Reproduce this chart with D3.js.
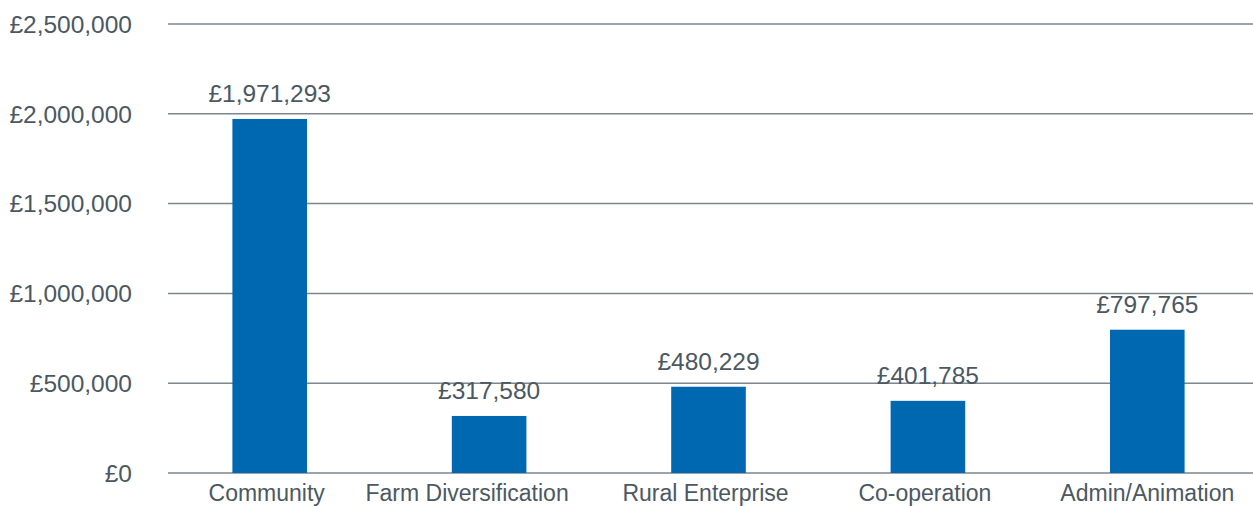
<!DOCTYPE html>
<html>
<head>
<meta charset="utf-8">
<script src="https://cdn.jsdelivr.net/npm/d3@7"></script>
<style>
  body { margin: 0; background: #fff; }
  text { font-family: "Liberation Sans", Arial, sans-serif; fill: #4b5862; }
</style>
</head>
<body>
<div id="chart"></div>
<script>
// chart data
const categories = ["Community", "Farm Diversification", "Rural Enterprise", "Co-operation", "Admin/Animation"];
const amounts = [1971293, 317580, 480229, 401785, 797765];
const yTicks = [0, 500000, 1000000, 1500000, 2000000, 2500000];

const width = 1253, height = 506;

const svg = d3.select("#chart").append("svg")
    .attr("width", width)
    .attr("height", height);

// scales
const x = d3.scaleBand()
    .domain(categories)
    .range([160, 1257])
    .paddingInner(0.66)
    .paddingOuter(0.33);

const y = d3.scaleLinear()
    .domain([0, 2500000])
    .range([473, 24]);

const money = v => "£" + d3.format(",")(v);

// gridlines
svg.append("g")
    .selectAll("line")
    .data(yTicks)
    .join("line")
    .attr("x1", 168)
    .attr("x2", width)
    .attr("y1", d => y(d))
    .attr("y2", d => y(d))
    .attr("stroke", "#7d868d")
    .attr("stroke-width", 1.5);

// y labels
svg.append("g")
    .selectAll("text")
    .data(yTicks)
    .join("text")
    .attr("x", 132)
    .attr("y", d => y(d))
    .attr("dy", "0.36em")
    .attr("text-anchor", "end")
    .style("font-size", "24.5px")
    .text(money);

const rows = categories.map((c, i) => ({cat: c, val: amounts[i]}));

// bars
svg.append("g")
    .selectAll("rect")
    .data(rows)
    .join("rect")
    .attr("x", d => x(d.cat))
    .attr("width", x.bandwidth())
    .attr("y", d => y(d.val))
    .attr("height", d => y(0) - y(d.val))
    .attr("fill", "#0067b1");

// value labels
svg.append("g")
    .selectAll("text")
    .data(rows)
    .join("text")
    .attr("x", d => x(d.cat) + x.bandwidth() / 2)
    .attr("y", d => y(d.val) - 17)
    .attr("text-anchor", "middle")
    .style("font-size", "24.5px")
    .text(d => money(d.val));

// category labels (the long one sits a bit left of its bar in the original)
svg.append("g")
    .selectAll("text")
    .data(categories)
    .join("text")
    .attr("x", d => x(d) + x.bandwidth() / 2)
    .attr("dx", (d, i) => i === 1 ? -22 : (i === 4 ? 0 : -3))
    .attr("y", 501)
    .attr("text-anchor", "middle")
    .style("font-size", "23px")
    .text(d => d);
</script>
</body>
</html>
